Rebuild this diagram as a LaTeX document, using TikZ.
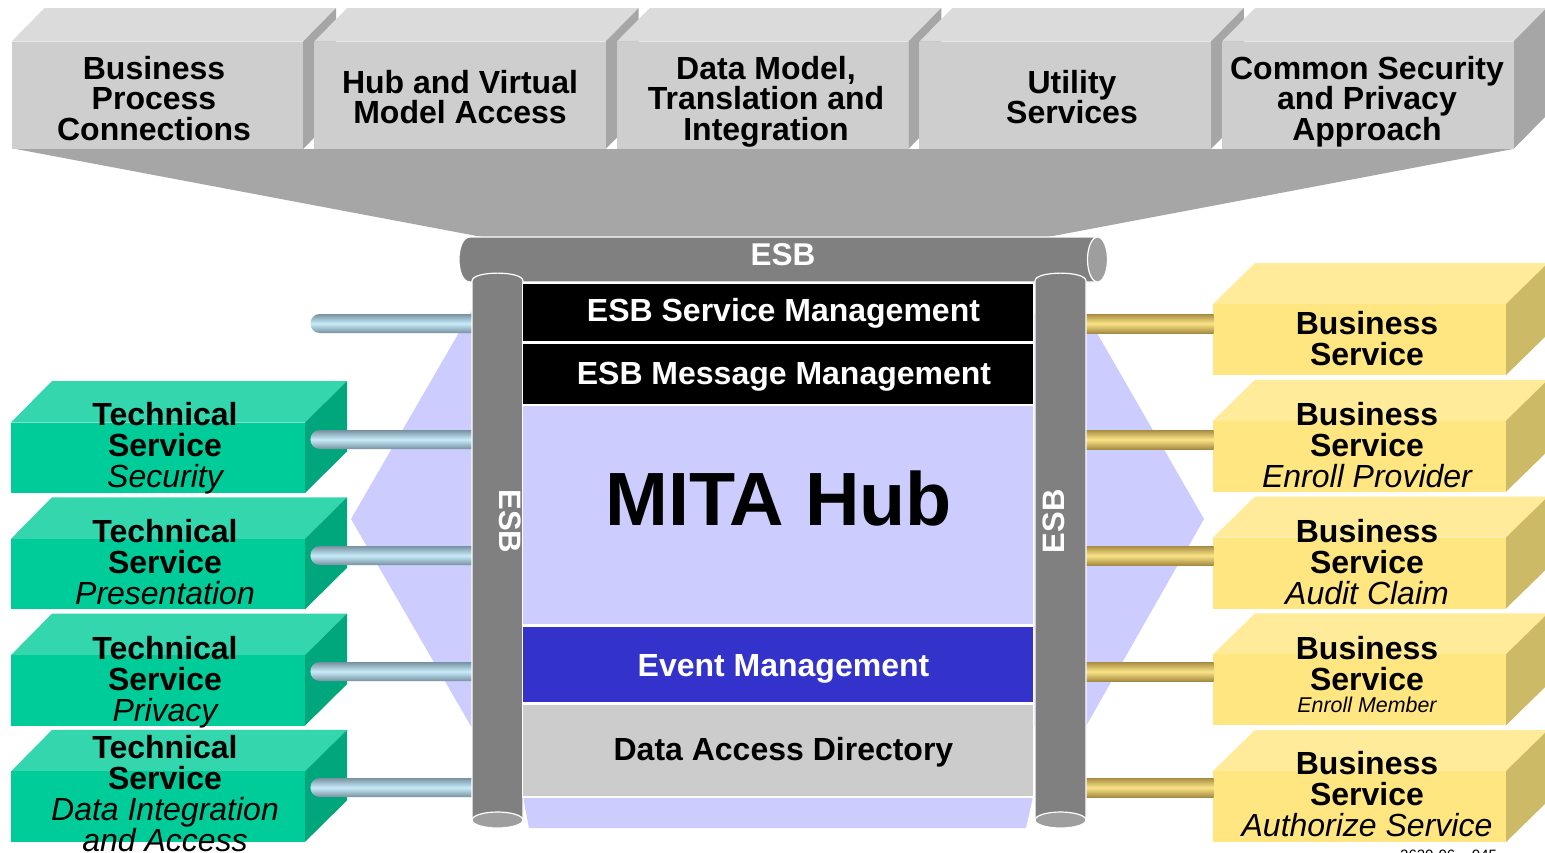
\documentclass[tikz,border=0pt]{standalone}
\usepackage{fontspec}
\setmainfont{Liberation Sans}
\definecolor{tfront}{RGB}{206,206,206}
\definecolor{ttop}{RGB}{219,219,219}
\definecolor{tside}{RGB}{166,166,166}
\definecolor{funnelc}{RGB}{166,166,166}
\definecolor{pipegray}{RGB}{128,128,128}
\definecolor{pipeendc}{RGB}{158,158,158}
\definecolor{lav}{RGB}{204,204,255}
\definecolor{evblue}{RGB}{51,51,204}
\definecolor{dagray}{RGB}{204,204,204}
\definecolor{gfront}{RGB}{0,204,153}
\definecolor{gtop}{RGB}{51,214,173}
\definecolor{gside}{RGB}{0,166,124}
\definecolor{yfront}{RGB}{255,230,128}
\definecolor{ytop}{RGB}{255,235,153}
\definecolor{yside}{RGB}{204,186,102}
\definecolor{bluedark}{RGB}{118,145,160}
\definecolor{bluelight}{RGB}{200,236,250}
\definecolor{golddark}{RGB}{165,140,65}
\definecolor{goldlight}{RGB}{250,228,135}
\tikzset{
  toptext/.style={font=\fontsize{32}{30.5}\selectfont\bfseries, align=center, inner sep=0pt, anchor=north},
  boxtext/.style={font=\fontsize{32}{31}\selectfont\bfseries, align=center, inner sep=0pt, anchor=north},
  lbl/.style={font=\fontsize{32}{32}\selectfont\bfseries, inner sep=0pt, anchor=base},
  pipebody/.style={fill=pipegray, draw=white, line width=1.2pt},
  pipeendst/.style={fill=pipeendc, draw=white, line width=1.2pt},
  bluepipe/.style={top color=bluedark, bottom color=bluedark, middle color=bluelight},
  goldpipe/.style={top color=golddark, bottom color=golddark, middle color=goldlight},
}
\begin{document}
\begin{tikzpicture}[x=1pt,y=-1pt]
\useasboundingbox (0,0) rectangle (1545,852);
\fill[white] (0,0) rectangle (1545,852);

% funnel
\fill[funnelc] (16,149) -- (1513,149) -- (1045,237.5) -- (485,237.5) -- cycle;

% top boxes
\foreach \i/\tx/\ty/\lbl in {0/154/68/{Business\\Process\\Connections},
  1/460/82/{Hub and Virtual\\Model Access},
  2/766/68/{Data Model,\\Translation and\\Integration},
  3/1072/82/{Utility\\Services},
  4/1367/68/{Common Security\\and Privacy\\Approach}}{
  \pgfmathsetmacro\L{11.6+302.6*\i}
  \fill[ttop] (\L,41.5) -- (\L+33,8) -- (\L+324.5,8) -- (\L+291.5,41.5) -- cycle;
  \fill[tside] (\L+291.5,41.5) -- (\L+324.5,8) -- (\L+324.5,115.5) -- (\L+291.5,149) -- cycle;
  \fill[tfront] (\L,41.5) rectangle (\L+291.5,149);
  \node[toptext] (tb\i) at (\tx,\ty-12.1) {\lbl};
}

% horizontal ESB pipe
\path[pipebody] (1097.5,237) -- (470,237) .. controls (455.3,237) and (455.3,282) .. (470,282) -- (1097.5,282) -- cycle;
\path[pipeendst] (1097.5,259.5) ellipse [x radius=10, y radius=22.5];
\node[lbl, white, font=\fontsize{31.5}{31.5}\selectfont\bfseries] (esbtop) at (783,265.7) {ESB};

% lavender hexagon
\fill[lav] (472,310) -- (351,519) -- (472,728) -- (1086,726) -- (1204,519) -- (1086,314) -- cycle;
\fill[lav] (523,797) -- (1033,797) -- (1026,828) -- (529,828) -- cycle;

% technical service boxes (green)
\foreach \i/\fy/\lbl in {0/414/{Technical\\Service\\{\mdseries\itshape Security}},
  1/531/{Technical\\Service\\{\mdseries\itshape Presentation}},
  2/648/{Technical\\Service\\{\mdseries\itshape Privacy}},
  3/747/{Technical\\Service\\{\mdseries\itshape Data Integration}\\{\mdseries\itshape and Access}}}{
  \pgfmathsetmacro\T{381+116.3*\i}
  \fill[gtop] (11,\T+41.5) -- (52,\T) -- (347,\T) -- (305,\T+41.5) -- cycle;
  \fill[gside] (305,\T+41.5) -- (347,\T) -- (347,\T+70.5) -- (305,\T+112) -- cycle;
  \fill[gfront] (11,\T+41.5) rectangle (305,\T+112);
  \node[boxtext] (ts\i) at (165,\fy-12.1) {\lbl};
}

% business service boxes (yellow)
\foreach \i/\fy/\lbl in {0/323/{Business\\Service},
  1/414/{Business\\Service\\{\mdseries\itshape Enroll Provider}},
  2/531/{Business\\Service\\{\mdseries\itshape Audit Claim}},
  3/648/{Business\\Service\\[-8.4pt]{\fontsize{21.4}{22}\selectfont\mdseries\itshape Enroll Member}},
  4/763/{Business\\Service\\{\mdseries\itshape Authorize Service}}}{
  \pgfmathsetmacro\T{263+116.75*\i}
  \fill[ytop] (1213,\T+41) -- (1255,\T) -- (1550,\T) -- (1506,\T+41) -- cycle;
  \fill[yside] (1506,\T+41) -- (1548,\T) -- (1548,\T+71) -- (1506,\T+112) -- cycle;
  \fill[yfront] (1213,\T+41) rectangle (1506,\T+112);
  \node[boxtext] (bs\i) at (1367,\fy-12.1) {\lbl};
}

% connectors
\foreach \i in {0,...,4}{
  \pgfmathsetmacro\C{323.5+116*\i}
  \shade[bluepipe] (474,\C-9.5) -- (320,\C-9.5) .. controls (307.3,\C-9.5) and (307.3,\C+9.5) .. (320,\C+9.5) -- (474,\C+9.5) -- cycle;
  \shade[goldpipe] (1084,\C-9.5) rectangle (1213.5,\C+9.5);
}

% vertical ESB pipes
\foreach \xl in {472,1035}{
  \path[pipebody] (\xl,820) -- (\xl,281) .. controls (\xl,270.5) and (\xl+51,270.5) .. (\xl+51,281) -- (\xl+51,820) -- cycle;
  \path[pipeendst] (\xl+25.5,820) ellipse [x radius=25.5, y radius=8];
}
\node[white, inner sep=0pt, font=\fontsize{31}{31}\selectfont\bfseries, rotate=-90] (esbl) at (510.5,521.5) {ESB};
\node[white, inner sep=0pt, font=\fontsize{31}{31}\selectfont\bfseries, rotate=90] (esbr) at (1054,521.3) {ESB};

% central panel
\fill[white] (522.4,282.4) rectangle (1034.4,797.6);
\fill[black] (523,283.5) rectangle (1033,341);
\fill[black] (523,344) rectangle (1033,403.5);
\fill[lav] (523,406) rectangle (1033,624);
\fill[evblue] (523,626.5) rectangle (1033,702);
\fill[dagray] (523,704.5) rectangle (1033,795.5);

\node[lbl, white] (esbsm) at (783.5,321.7) {ESB Service Management};
\node[lbl, white] (esbmm) at (784,384) {ESB Message Management};
\node[inner sep=0pt, font=\fontsize{75.5}{75.5}\selectfont\bfseries] (mita) at (778.5,498.5) {MITA Hub};
\node[lbl, white] (evm) at (783.5,676) {Event Management};
\node[lbl] (dad) at (783.5,760) {Data Access Directory};

% figure code (cut at page edge, as in the reference)
\node[inner sep=0pt, anchor=base west, font=\fontsize{15}{15}\selectfont] (code) at (1400,860) {2620-06 -- 045};
\end{tikzpicture}
\end{document}
